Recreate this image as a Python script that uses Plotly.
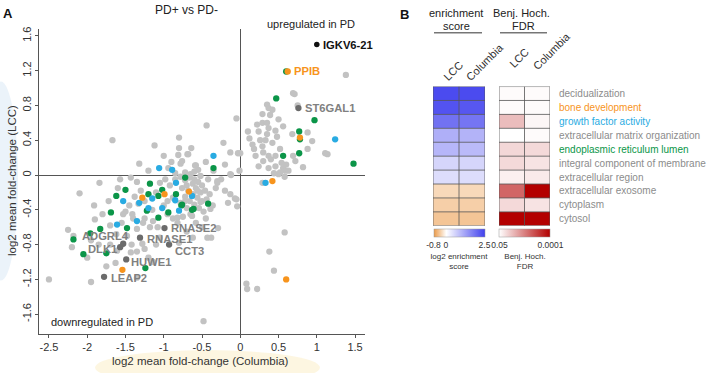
import numpy as np
import plotly.graph_objects as go

# ---------------- Panel A data (log2 mean fold-change: Columbia, LCC) ----------------
gray_x = [-1.67, -1.12, -0.80, -0.44, -0.05, -0.80, -0.64, -0.81, -0.68, -0.22, -0.13, -0.03, -1.32, -0.78,
          -0.58, -0.94, -0.12, -1.84, -1.57, -1.43, -1.05, -0.65, -0.52, -0.30, -0.76, -0.85, -0.72, -0.60,
          -0.55, -0.69, -0.59, -0.13, -0.13, -0.07, -0.04, -0.16, -0.30, -0.20,
          -0.85, -0.78, -0.72, -0.66, -0.60, -0.55, -0.50, -0.62, -0.70, -0.76, -0.58, -0.52, -0.46, -0.40,
          -0.68, -0.62, -0.56, -0.50, -0.44, -0.72, -0.66, -0.60, -0.54, -0.48, -0.70, -0.78, -0.88, -0.92,
          -0.98, -1.10, -1.00, -0.95, -0.88, -0.82, -0.75, -0.65, -1.15, -1.25, -1.30, -1.38, -1.45, -1.50,
          -1.40, -1.55, -1.35, -1.25, -1.18, -1.08, -0.58, -0.50, -0.45, -0.36, -0.32, -0.25, -0.42, -0.35,
          -0.20, -0.45, -0.90, -1.00, -1.20, -1.35, -1.60, -1.72, -1.80, -1.62, -1.70, -1.85, -1.95, -1.48,
          -1.42, -1.35, -1.25, -1.10, -1.05, -0.70, -0.62, -0.80,
          -2.10, -1.91, -1.90, -1.70, -2.25, -2.18, -2.20, -2.00, -1.75, -1.61, -1.43, -1.28, -1.63, -1.35,
          -1.14, -1.20, -0.43, -0.38, -0.29, -0.05, -0.52, -0.63, -0.56, -0.82, -1.14, -1.27, -1.41, -1.53,
          -1.33, -0.95, -0.72, -0.39, -2.50, -1.95, -0.48,
          0.58, 0.38, 0.44, 0.08, 0.09, 0.22, 0.29,
          0.71, 0.75, 0.35, 0.37, 0.42, 0.29, 0.39, 0.29, 0.35, 0.50, 0.22, 0.24, 0.10, 0.37, 0.46, 0.56,
          0.35, 0.48, 0.68, 0.88, 0.16, 0.29, 0.42, 0.52, 0.46, 0.37, 0.30, 0.20, 0.69, 0.88, 1.14, 0.00,
          0.37, 0.24, 0.46, 0.56, 0.50, 0.59, 0.63, 0.82, 0.72, 0.30, 0.94, 1.38, 0.69, 1.11, 0.54, 0.60,
          0.44, 0.33, 0.26, 0.52, 0.58, 0.40, 0.18, 0.12, -0.01]
gray_y = [0.40, 0.34, 0.43, 0.57, 0.65, 0.31, 0.31, 0.23, 0.24, 0.37, 0.26, 0.25, 0.13, 0.13,
          0.11, 0.08, 0.00, -0.09, -0.05, -0.03, -0.09, 0.01, -0.01, -0.07, 0.16, 0.02, 0.03, 0.04,
          0.06, 0.24, 0.11, 0.01, -0.22, -0.27, -0.36, -0.32, -0.09, -0.18,
          -0.05, -0.02, -0.06, -0.03, -0.05, -0.08, -0.12, -0.10, -0.12, -0.15, -0.15, -0.20, -0.18, -0.22,
          -0.18, -0.22, -0.26, -0.30, -0.28, -0.25, -0.30, -0.34, -0.38, -0.42, -0.38, -0.32, -0.26, -0.12,
          -0.05, -0.20, -0.35, -0.45, -0.50, -0.55, -0.48, -0.45, -0.40, -0.30, -0.18, -0.25, -0.35, -0.42,
          -0.50, -0.55, -0.62, -0.50, -0.60, -0.60, -0.55, -0.60, -0.50, -0.35, -0.15, -0.05, -0.05, 0.05,
          0.12, 0.15, 0.15, 0.22, 0.05, -0.08, -0.15, -0.30, -0.45, -0.68, -0.80, -0.80, -0.75, -0.70,
          -0.80, -0.88, -0.85, -0.80, -0.72, -0.65, -0.72, -0.78,
          -0.21, -0.35, -0.51, -0.58, -0.63, -0.70, -0.83, -0.95, -1.05, -0.87, -0.89, -0.79, -1.01, -1.18,
          -1.00, -0.95, -0.72, -0.72, -0.61, -0.28, -0.31, -0.47, -0.18, -0.49, -0.53, -0.55, -0.45, -0.45,
          -0.33, -0.30, -0.30, -0.39, -1.20, -1.23, -1.68,
          -0.66, -0.88, -1.10, -1.25, -1.31, -1.31, -0.09,
          0.93, 0.80, 0.81, 0.77, 0.75, 0.70, 0.69, 0.60, 0.60, 0.64, 0.58, 0.50, 0.50, 0.54, 0.51, 0.56,
          0.47, 0.44, 0.47, 0.49, 0.35, 0.33, 0.37, 0.30, 0.22, 0.22, 0.26, 0.22, 0.22, 0.30, 0.24, 0.25,
          0.08, 0.10, 0.10, 0.08, 0.01, 0.05, 0.05, 0.09, 0.16, 0.16, 0.39, 1.15, 0.94, 0.25, 0.14, 0.12,
          0.02, 0.40, 0.40, 0.03, -0.02, 0.18, 0.30, 0.42, 0.05]

green_x = [-1.18, -1.62, -1.50, -1.20, -1.69, -1.22, -1.48, -1.83, -1.96, -2.18, -2.05, -1.75, -1.24,
           -0.35, -0.72, -1.02, -0.84, -1.07, -0.76, -0.42, -0.94, -0.61, -1.07, -0.77, -0.63,
           0.47, 0.97, 0.77, 0.78, 0.56, 0.77, 1.48, 0.60]
green_y = [-0.10, -0.24, -0.17, -0.22, -0.43, -0.41, -0.61, -0.62, -0.67, -0.74, -0.91, -0.90, -1.07,
           0.08, -0.03, -0.17, -0.22, -0.24, -0.34, -0.33, -0.43, -0.39, -0.49, -0.35, -0.40,
           0.88, 0.63, 0.50, 0.41, 0.22, 0.25, 0.13, 1.19]

blue_x = [-1.53, -1.32, -1.20, -1.35, -1.61, -0.35, -1.06, -0.89, -0.84, -0.63, -1.15, -0.85, -1.02,
          -0.80, 1.24, 0.33]
blue_y = [-0.30, -0.32, -0.38, -0.53, -0.57, 0.22, 0.08, 0.06, -0.09, -0.24, -0.27, -0.29, -0.38,
          -0.41, 0.41, -0.09]

orange_x = [-1.28, -1.54, -0.99, -0.67, 0.78, 0.42, 0.62, 0.60]
orange_y = [-0.26, -1.09, -0.22, -0.19, 0.43, -0.07, 1.19, -1.20]

gene_names = ["IGKV6-21", "PPIB", "ST6GAL1", "RNASE2", "RNASE1", "CCT3", "ADGRL4", "DLK1", "HUWE1", "LEAP2"]
gene_x = [1.00, None, 0.76, -0.99, -1.31, -0.93, -1.53, -1.57, -1.49, -1.78]
gene_y = [1.50, None, 0.77, -0.61, -0.72, -0.80, -0.79, -0.83, -0.97, -1.17]
gene_label_x = [1.06, 0.68, 0.82, -0.93, -1.24, -0.88, -2.09, -2.01, -1.46, -1.71]
gene_label_y = [1.50, 1.19, 0.77, -0.61, -0.73, -0.87, -0.70, -0.85, -1.00, -1.18]
gene_colors = ["#111111", "#f7941d", "#808080", "#808080", "#808080", "#808080", "#808080", "#808080",
               "#808080", "#808080"]

x_ticks = [-2.5, -2, -1.5, -1, -0.5, 0, 0.5, 1, 1.5]
x_ticklabels = ["-2.5", "-2", "-1.5", "-1", "-0.5", "0", "0.5", "1", "1.5"]
y_ticks = [-1.6, -1.2, -0.8, -0.4, 0, 0.4, 0.8, 1.2, 1.6]
y_ticklabels = ["-1.6", "-1.2", "-0.8", "-0.4", "0", "0.4", "0.8", "1.2", "1.6"]

# ---------------- Panel B data ----------------
terms = ["decidualization", "bone development", "growth factor activity", "extracellular matrix organization",
         "endoplasmic reticulum lumen", "integral component of membrane", "extracellular region",
         "extracellular exosome", "cytoplasm", "cytosol"]
term_colors = ["#8c8c8c", "#f7941d", "#29abe2", "#8c8c8c", "#0a9648", "#8c8c8c", "#8c8c8c", "#8c8c8c",
               "#8c8c8c", "#8c8c8c"]
cohorts = ["LCC", "Columbia"]
enrich_lcc = [2.35, 2.25, 1.85, 1.05, 0.95, 0.55, 0.45, -0.30, -0.38, -0.46]
enrich_col = [2.35, 2.20, 1.80, 1.00, 0.90, 0.55, 0.45, -0.30, -0.38, -0.46]
fdr_lcc = [0.045, 0.045, 0.010, 0.05, 0.019, 0.020, 0.035, 0.0012, 0.020, 0.0001]
fdr_col = [0.045, 0.045, 0.040, 0.045, 0.020, 0.025, 0.030, 0.0001, 0.025, 0.0001]

W, H = 709, 373
def fx(p):
    return p / W
def fy(p):
    return 1 - p / H

FONT = "Arial, Liberation Sans, sans-serif"
GRAY_AX = "#555555"

fig = go.Figure()

def pts(x, y, color, size=6.3):
    fig.add_trace(go.Scatter(x=x, y=y, mode="markers", xaxis="x", yaxis="y", hoverinfo="skip",
                             showlegend=False, marker=dict(color=color, size=size, line=dict(width=0))))

pts(gray_x, gray_y, "#c2c2c2")
pts(green_x, green_y, "#0b9548")
pts(blue_x, blue_y, "#29abe2")
pts(orange_x, orange_y, "#f7941d")
gx = [v for v, n in zip(gene_x, gene_names) if v is not None and n != "IGKV6-21"]
gy = [v for v, n in zip(gene_y, gene_names) if v is not None and n != "IGKV6-21"]
pts(gx, gy, "#6b6b6b")
pts([gene_x[0]], [gene_y[0]], "#111111", size=5.5)

annotations = []
for name, lx, ly, c in zip(gene_names, gene_label_x, gene_label_y, gene_colors):
    annotations.append(dict(x=lx, y=ly, xref="x", yref="y", text="<b>%s</b>" % name, showarrow=False,
                            xanchor="left", yanchor="middle", font=dict(family=FONT, size=11.2, color=c)))

# heatmaps
z1 = [[a, b] for a, b in zip(enrich_lcc, enrich_col)]
z2 = [[-np.log10(a), -np.log10(b)] for a, b in zip(fdr_lcc, fdr_col)]

fig.add_trace(go.Heatmap(
    z=z1, x=cohorts, y=terms, xaxis="x2", yaxis="y2", zmin=-0.8, zmax=2.5, hoverinfo="skip",
    colorscale=[[0, "#eb9a48"], [0.8 / 3.3, "#ffffff"], [1, "#4040ee"]],
    colorbar=dict(orientation="h", x=fx(459), xanchor="center", y=fy(228.5), yanchor="top",
                  len=51, lenmode="pixels", thickness=8, thicknessmode="pixels", xpad=0, ypad=0,
                  tickvals=[-0.8, 0, 2.5], ticktext=["-0.8", "0", "2.5"], ticks="", ticklen=0,
                  tickfont=dict(family=FONT, size=8.5, color="#333"), outlinewidth=0.5, outlinecolor="#999",
                  title=dict(text="log2 enrichment<br>score", side="bottom",
                             font=dict(family=FONT, size=8, color="#333")))))

fig.add_trace(go.Heatmap(
    z=z2, x=cohorts, y=terms, xaxis="x3", yaxis="y3", zmin=-np.log10(0.05), zmax=4, hoverinfo="skip",
    colorscale=[[0, "#ffffff"], [1, "#b30000"]],
    colorbar=dict(orientation="h", x=fx(525), xanchor="center", y=fy(228.5), yanchor="top",
                  len=51, lenmode="pixels", thickness=8, thicknessmode="pixels", xpad=0, ypad=0,
                  tickvals=[-np.log10(0.05), 4], ticktext=["0.05", "0.0001"], ticks="", ticklen=0,
                  tickfont=dict(family=FONT, size=8.5, color="#333"), outlinewidth=0.5, outlinecolor="#999",
                  title=dict(text="Benj. Hoch.<br>FDR", side="bottom",
                             font=dict(family=FONT, size=8, color="#333")))))

shapes = []
# heatmap cell borders
for ax in ["2", "3"]:
    for i in range(len(terms) + 1):
        shapes.append(dict(type="line", xref="x" + ax, yref="y" + ax, x0=-0.5, x1=1.5, y0=i - 0.5, y1=i - 0.5,
                           line=dict(color="#555", width=0.8)))
    for j in range(len(cohorts) + 1):
        shapes.append(dict(type="line", xref="x" + ax, yref="y" + ax, x0=j - 0.5, x1=j - 0.5, y0=-0.5,
                           y1=len(terms) - 0.5, line=dict(color="#555", width=0.8)))

# header underlines
shapes.append(dict(type="line", xref="paper", yref="paper", x0=fx(434), x1=fx(482), y0=fy(31), y1=fy(31),
                   line=dict(color="#333", width=1)))
shapes.append(dict(type="line", xref="paper", yref="paper", x0=fx(500), x1=fx(547), y0=fy(31), y1=fy(31),
                   line=dict(color="#333", width=1)))
# soft glows behind axis titles
shapes.append(dict(type="circle", xref="paper", yref="paper", x0=fx(-16), x1=fx(18), y0=fy(280), y1=fy(80),
                   fillcolor="rgba(210,228,245,0.45)", line=dict(width=0), layer="below"))
shapes.append(dict(type="circle", xref="paper", yref="paper", x0=fx(95), x1=fx(320), y0=fy(385), y1=fy(350),
                   fillcolor="rgba(252,238,200,0.55)", line=dict(width=0), layer="below"))

def txt(x, y, s, size=11, color="#333", xanchor="center", yanchor="middle", angle=0):
    annotations.append(dict(x=fx(x), y=fy(y), xref="paper", yref="paper", text=s, showarrow=False,
                            xanchor=xanchor, yanchor=yanchor, textangle=angle,
                            font=dict(family=FONT, size=size, color=color)))

txt(8, 12, "<b>A</b>", size=13, color="#111")
txt(404, 13, "<b>B</b>", size=13, color="#111")
txt(186, 8, "PD+ vs PD-", size=12, color="#222")
txt(311, 22, "upregulated in PD", size=11, color="#222")
txt(102, 322, "downregulated in PD", size=11, color="#222")
txt(200, 361, "log2 mean fold-change (Columbia)", size=11.5, color="#333")
txt(12, 180, "log2 mean fold-change (LCC)", size=11.5, color="#333", angle=-90)

txt(456, 11, "enrichment", size=11, color="#222")
txt(456, 24, "score", size=11, color="#222")
txt(521, 11, "Benj. Hoch.", size=11, color="#222")
txt(523, 24, "FDR", size=11, color="#222")

# rotated column labels
for x0, ybot, c in [(438, 84, "LCC"), (461, 84, "Columbia"), (504, 71, "LCC"), (528, 73, "Columbia")]:
    txt(x0, ybot, c, size=11, color="#333", xanchor="left", yanchor="bottom", angle=-45)

row_top, row_h = 85, 14
for i, (t, c) in enumerate(zip(terms, term_colors)):
    txt(557, row_top + row_h * (i + 0.5), t, size=10, color=c, xanchor="left")

fig.update_layout(
    width=W, height=H, autosize=False, margin=dict(l=0, r=0, t=0, b=0),
    paper_bgcolor="white", plot_bgcolor="rgba(0,0,0,0)", showlegend=False,
    font=dict(family=FONT, color="#333"),
    xaxis=dict(domain=[fx(39), fx(365)], range=[-2.63, 1.63], tickvals=x_ticks, ticktext=x_ticklabels,
               showgrid=False, zeroline=True, zerolinecolor=GRAY_AX, zerolinewidth=1,
               showline=True, linecolor=GRAY_AX, linewidth=1, ticks="outside", ticklen=3, tickcolor=GRAY_AX,
               tickfont=dict(size=11, color="#333"), anchor="y"),
    yaxis=dict(domain=[fy(334), fy(27)], range=[-1.83, 1.68], tickvals=y_ticks, ticktext=y_ticklabels,
               showgrid=False, zeroline=True, zerolinecolor=GRAY_AX, zerolinewidth=1,
               showline=True, linecolor=GRAY_AX, linewidth=1, ticks="outside", ticklen=3, tickcolor=GRAY_AX,
               tickangle=-90, tickfont=dict(size=11, color="#333"), anchor="x"),
    xaxis2=dict(domain=[fx(433), fx(485)], range=[-0.5, 1.5], showticklabels=False, showgrid=False,
                zeroline=False, anchor="y2"),
    yaxis2=dict(domain=[fy(225), fy(85)], range=[9.5, -0.5], showticklabels=False, showgrid=False,
                zeroline=False, anchor="x2"),
    xaxis3=dict(domain=[fx(499), fx(550)], range=[-0.5, 1.5], showticklabels=False, showgrid=False,
                zeroline=False, anchor="y3"),
    yaxis3=dict(domain=[fy(225), fy(85)], range=[9.5, -0.5], showticklabels=False, showgrid=False,
                zeroline=False, anchor="x3"),
    shapes=shapes, annotations=annotations,
)

fig.write_html("out.html", config={"displayModeBar": False},
               post_script="document.body.style.margin='0';document.body.style.overflow='hidden';")
